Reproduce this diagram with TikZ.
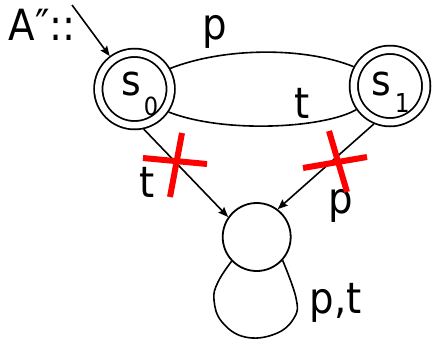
\documentclass[tikz,border=0pt]{standalone}
\usepackage{fontspec}
\setmainfont{DejaVu Sans}[FakeStretch=0.9]
\usetikzlibrary{arrows.meta}
\begin{document}
\begin{tikzpicture}[x=1pt,y=-1pt,
  accstate/.style={circle,draw,line width=1.8pt,double,double distance=6.5pt,
    minimum size=72.4pt,inner sep=0pt,outer sep=5pt},
  plainstate/.style={circle,draw,line width=1.8pt,minimum size=68pt,inner sep=0pt,outer sep=0.9pt},
  lbl/.style={anchor=base,inner sep=0pt,font=\fontsize{43}{43}\selectfont},
  statelbl/.style={anchor=base west,inner sep=0pt,font=\fontsize{42}{42}\selectfont},
  edge/.style={line width=1.6pt},
  arr/.style={line width=1.6pt,-{Stealth[length=10pt,width=8pt,inset=1.5pt]}},
  cross/.style={line width=6pt,draw={rgb,255:red,255;green,0;blue,0}}]
\useasboundingbox (0,0) rectangle (433,338);
% states
\node[accstate] (s0) at (134.5,89) {};
\node[accstate] (s1) at (390,86) {};
\node[plainstate] (q) at (256.7,237) {};
% state labels
\node[statelbl] (l0) at (121,95) {s\raisebox{-20pt}{\kern3pt\fontsize{25}{25}\selectfont 0}};
\node[statelbl] (l1) at (371,95) {s\raisebox{-17pt}{\kern4pt\fontsize{26}{26}\selectfont 1}};
% initial arrow
\node[lbl] (init) at (42.5,40) {A″::};
\coordinate (start) at (72,5);
\draw[arr] (start) -- (s0.127);
% edges
\draw[edge] (s0.30) .. controls (225,47) and (305,47) .. (s1.152);
\draw[edge] (s0.-34) .. controls (225,134) and (325,128) .. (s1.215);
\draw[arr] (s0.-77) -- (q.145);
\draw[arr] (s1.247.5) -- (q.53.7);
\draw[edge] plot[smooth,tension=0.7] coordinates {(q.224) (218,282) (214,300) (222,322) (245,337) (275,334) (294,318) (296,298) (q.318)};
% edge labels
\node[lbl] (ptop) at (215,39) {p};
\node[lbl] (tmid) at (302,118) {t};
\node[lbl] (tleft) at (147.5,197) {t};
\node[lbl] (pright) at (340.5,213) {p};
\node[lbl] (ploop) at (336,313) {p,t};
% red crosses
\draw[cross] (143,158) -- (207,164);
\draw[cross] (182,133) -- (170,197);
\draw[cross] (303,168) -- (367,157);
\draw[cross] (329,131) -- (347,192);
\end{tikzpicture}
\end{document}
